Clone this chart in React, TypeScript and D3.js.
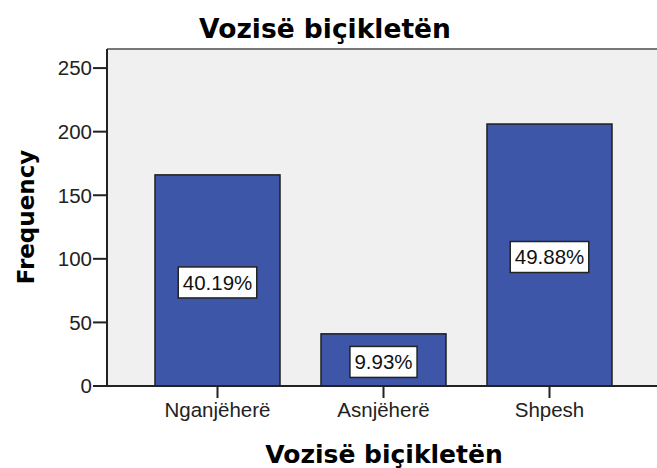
import React from "react";
import * as d3 from "d3";

const categories = ["Nganjëherë", "Asnjëherë", "Shpesh"];
const frequencies = [166, 41, 206];
const yTicks = [0, 50, 100, 150, 200, 250];
const title = "Vozisë biçikletën";
const xTitle = "Vozisë biçikletën";
const yTitle = "Frequency";

const W = 657;
const H = 468;
const plotLeft = 107;
const plotTop = 49;
const plotBottom = 386;
const plotRight = 657;

const sans = "'Liberation Sans', Arial, sans-serif";
const bold = "'DejaVu Sans', Verdana, sans-serif";

export default function App() {
  const total = d3.sum(frequencies);
  const y = d3.scaleLinear().domain([0, 265]).range([plotBottom, plotTop]);
  const x = d3
    .scaleBand<string>()
    .domain(categories)
    .range([134.5, 632.5])
    .paddingInner(0.247)
    .paddingOuter(0.1235);
  const bw = x.bandwidth();
  const fs = 20.5;

  return (
    <svg
      width={W}
      height={H}
      style={{ position: "absolute", left: 0, top: 0, background: "#fff" }}
    >
      <rect x={plotLeft} y={plotTop} width={plotRight - plotLeft} height={plotBottom - plotTop} fill="#f0f0f0" />
      <line x1={plotLeft} x2={plotRight} y1={plotTop} y2={plotTop} stroke="#777" strokeWidth={2} />
      <text x={325} y={38} textAnchor="middle" fontFamily={bold} fontWeight="bold" fontSize={26.5} fill="#000">
        {title}
      </text>
      {categories.map((c, i) => {
        const v = frequencies[i];
        const x0 = x(c)!;
        const label = ((v / total) * 100).toFixed(2) + "%";
        const cy = (y(v) + y(0)) / 2 + 2;
        const tw = label.length * 0 + 0;
        return (
          <g key={c}>
            <rect x={x0} y={y(v)} width={bw} height={y(0) - y(v)} fill="#3d56a8" stroke="#1e1e1e" strokeWidth={1.5} />
            <BoxLabel cx={x0 + bw / 2} cy={cy} text={label} fs={fs} />
          </g>
        );
      })}
      {/* y axis */}
      <line x1={plotLeft} x2={plotLeft} y1={plotTop} y2={plotBottom} stroke="#222" strokeWidth={2} />
      {yTicks.map((t) => (
        <g key={t}>
          <line x1={93} x2={plotLeft} y1={y(t)} y2={y(t)} stroke="#222" strokeWidth={2} />
          <text x={92} y={y(t)} dy="0.36em" textAnchor="end" fontFamily={sans} fontSize={fs} fill="#222">
            {t}
          </text>
        </g>
      ))}
      {/* x axis */}
      <line x1={93} x2={plotRight} y1={plotBottom} y2={plotBottom} stroke="#222" strokeWidth={2} />
      {categories.map((c) => {
        const cx = x(c)! + bw / 2;
        return (
          <g key={c}>
            <line x1={cx} x2={cx} y1={plotBottom} y2={398} stroke="#222" strokeWidth={2} />
            <text x={cx} y={417} textAnchor="middle" fontFamily={sans} fontSize={fs} fill="#222">
              {c}
            </text>
          </g>
        );
      })}
      <text x={384} y={463} textAnchor="middle" fontFamily={bold} fontWeight="bold" fontSize={25} fill="#000">
        {xTitle}
      </text>
      <text
        transform={`translate(34, 217) rotate(-90)`}
        textAnchor="middle"
        fontFamily={bold}
        fontWeight="bold"
        fontSize={23}
        fill="#000"
      >
        {yTitle}
      </text>
    </svg>
  );
}

function BoxLabel({ cx, cy, text, fs }: { cx: number; cy: number; text: string; fs: number }) {
  const ref = React.useRef<SVGTextElement>(null);
  const [w, setW] = React.useState(text.length * fs * 0.56);
  React.useLayoutEffect(() => {
    if (ref.current) setW(ref.current.getBBox().width);
  }, [text, fs]);
  const bw = w + 9;
  const bh = 31;
  return (
    <g>
      <rect x={cx - bw / 2} y={cy - bh / 2} width={bw} height={bh} fill="#fff" stroke="#222" strokeWidth={1.5} />
      <text ref={ref} x={cx} y={cy} dy="0.36em" textAnchor="middle" fontFamily={sans} fontSize={fs} fill="#111">
        {text}
      </text>
    </g>
  );
}
